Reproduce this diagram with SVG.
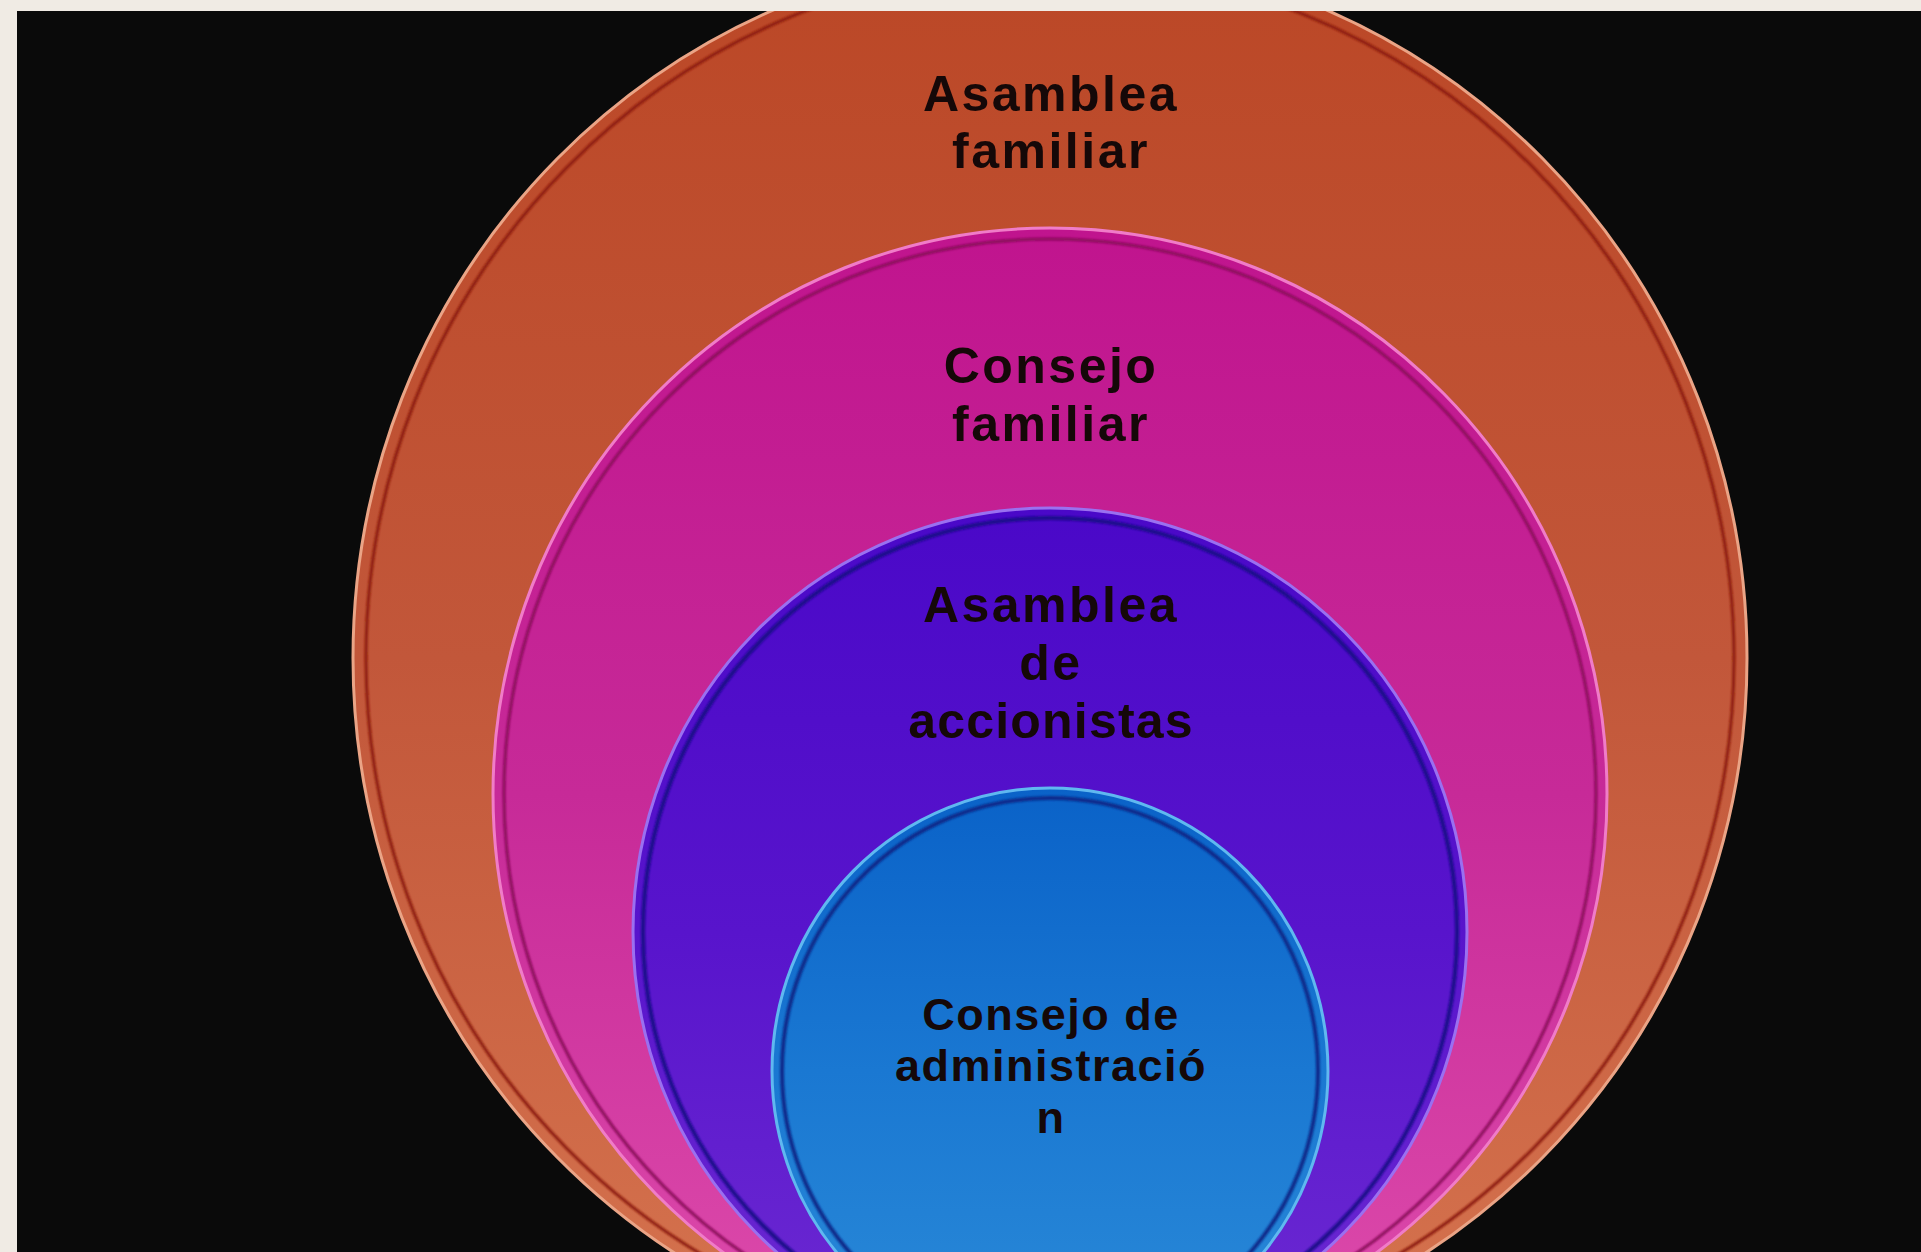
<svg xmlns="http://www.w3.org/2000/svg" width="1921" height="1252" viewBox="0 0 1921 1252">
<style>
.lbl{font-family:"Liberation Sans",Arial,sans-serif;font-weight:700;fill:#150808;text-anchor:middle}
.big{font-size:50px;letter-spacing:2.5px}
.sm{font-size:45px;letter-spacing:1.5px}
.tight{letter-spacing:1.2px}
.soft{filter:url(#soft)}
</style>
<defs>
<clipPath id="frame"><rect x="17" y="11" width="1904" height="1241"/></clipPath>
<filter id="soft" x="-5%" y="-5%" width="110%" height="110%"><feGaussianBlur stdDeviation="1.2"/></filter>
<linearGradient id="gO" x1="0" y1="0" x2="0" y2="1">
<stop offset="0" stop-color="#bb4726"/><stop offset="0.5" stop-color="#c2573a"/><stop offset="1" stop-color="#d6744f"/></linearGradient>
<linearGradient id="gM" x1="0" y1="0" x2="0" y2="1">
<stop offset="0" stop-color="#c0148e"/><stop offset="0.5" stop-color="#c72a98"/><stop offset="1" stop-color="#de4cac"/></linearGradient>
<linearGradient id="gP" x1="0" y1="0" x2="0" y2="1">
<stop offset="0" stop-color="#4a08c8"/><stop offset="0.5" stop-color="#5814cc"/><stop offset="1" stop-color="#6c2ad2"/></linearGradient>
<linearGradient id="gB" x1="0" y1="0" x2="0" y2="1">
<stop offset="0" stop-color="#0a62c8"/><stop offset="0.5" stop-color="#1a78d2"/><stop offset="1" stop-color="#2a8ad8"/></linearGradient>
</defs>
<rect x="0" y="0" width="1921" height="1252" fill="#f0ebe4"/>
<rect x="17" y="11" width="1904" height="1241" fill="#0a0a0a"/>
<g clip-path="url(#frame)">
<g id="asamblea-familiar">
<ellipse cx="1050" cy="658" rx="697" ry="706" fill="url(#gO)" stroke="#eaa486" stroke-width="3"/>
<ellipse class="soft" cx="1050" cy="658" rx="684" ry="693" fill="none" stroke="#8c1c0c" stroke-width="3"/>
<text class="lbl big" x="1050" y="111"><tspan x="1051" y="111">Asamblea</tspan><tspan x="1051" y="168">familiar</tspan></text>
</g>
<g id="consejo-familiar">
<ellipse cx="1050" cy="794" rx="557" ry="566" fill="url(#gM)" stroke="#f07cc8" stroke-width="3"/>
<ellipse class="soft" cx="1050" cy="794" rx="546" ry="555" fill="none" stroke="#8a0a5a" stroke-width="3"/>
<text class="lbl big" x="1050" y="383"><tspan x="1051" y="383">Consejo</tspan><tspan x="1051" y="441">familiar</tspan></text>
</g>
<g id="asamblea-accionistas">
<ellipse cx="1050" cy="932" rx="417" ry="424" fill="url(#gP)" stroke="#9a70f0" stroke-width="3"/>
<ellipse class="soft" cx="1050" cy="932" rx="407" ry="414" fill="none" stroke="#1a0a8a" stroke-width="4"/>
<text class="lbl big" x="1050" y="622"><tspan x="1051" y="622">Asamblea</tspan><tspan x="1051" y="680">de</tspan><tspan class="tight" x="1051" y="738">accionistas</tspan></text>
</g>
<g id="consejo-administracion">
<ellipse cx="1050" cy="1071" rx="278" ry="283" fill="url(#gB)" stroke="#60b8f0" stroke-width="3"/>
<ellipse class="soft" cx="1050" cy="1071" rx="268" ry="273" fill="none" stroke="#0a2a8a" stroke-width="4"/>
<text class="lbl sm" x="1050" y="1030"><tspan x="1051" y="1030">Consejo de</tspan><tspan x="1051" y="1081">administració</tspan><tspan x="1051" y="1133">n</tspan></text>
</g>
<g id="connectors"/>
</g>
</svg>
